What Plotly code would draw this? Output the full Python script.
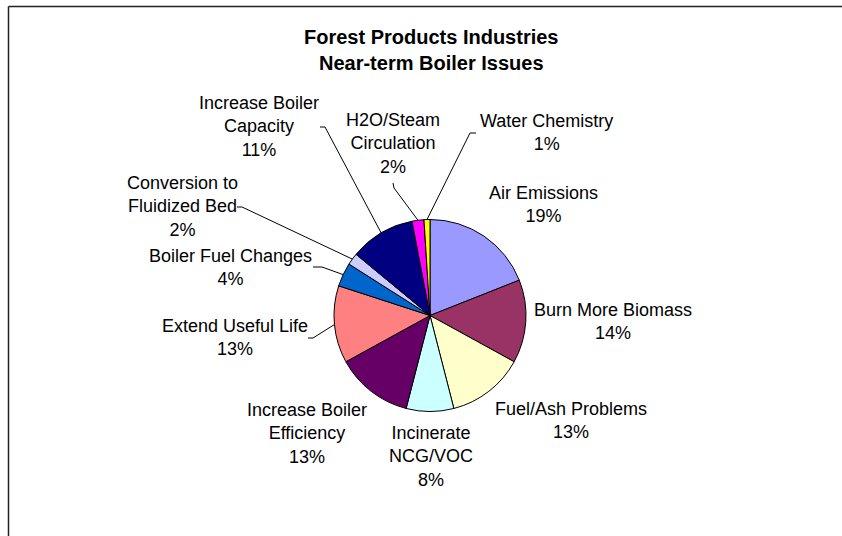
import math
import plotly.graph_objects as go

# Survey responses: share of near-term boiler issues (percent)
categories = [
    "Air Emissions",
    "Burn More Biomass",
    "Fuel/Ash Problems",
    "Incinerate NCG/VOC",
    "Increase Boiler Efficiency",
    "Extend Useful Life",
    "Boiler Fuel Changes",
    "Conversion to Fluidized Bed",
    "Increase Boiler Capacity",
    "H2O/Steam Circulation",
    "Water Chemistry",
]
values = [19, 14, 13, 8, 13, 13, 4, 2, 11, 2, 1]

# How each category name is wrapped in its label
label_lines = [
    ["Air Emissions"],
    ["Burn More Biomass"],
    ["Fuel/Ash Problems"],
    ["Incinerate", "NCG/VOC"],
    ["Increase Boiler", "Efficiency"],
    ["Extend Useful Life"],
    ["Boiler Fuel Changes"],
    ["Conversion to", "Fluidized Bed"],
    ["Increase Boiler", "Capacity"],
    ["H2O/Steam", "Circulation"],
    ["Water Chemistry"],
]

colors = ["#9999FF", "#993366", "#FFFFCC", "#CCFFFF", "#660066", "#FF8080",
          "#0066CC", "#CCCCFF", "#000080", "#FF00FF", "#FFFF00"]

W, H = 842, 536
CX, CY, R = 430, 315.5, 96          # pie centre and radius in pixels
FONT = "Arial, Liberation Sans, sans-serif"

# Label block centres (pixels)
label_pos = [
    (543, 204), (613, 321), (571, 420), (431, 456), (307, 433), (235, 337),
    (230, 267), (182, 206), (259, 126), (393, 143), (546, 132),
]
# Leader lines: label-side start point and elbow point (pixels), or None
leaders = [
    None, None, None, None, None,
    ((308, 338), (313, 338)),
    ((313, 267), (322, 267)),
    ((237, 207), (242, 207)),
    ((320, 127), (325, 127)),
    ((393, 183), (394, 188)),
    ((476, 133), (470, 133)),
]

total = sum(values)

fig = go.Figure()
fig.add_trace(go.Pie(
    labels=categories,
    values=values,
    sort=False,
    direction="clockwise",
    rotation=0,
    marker=dict(colors=colors, line=dict(color="#000000", width=1)),
    textinfo="none",
    hoverinfo="label+percent",
    showlegend=False,
    domain=dict(x=[(CX - R) / W, (CX + R) / W],
                y=[1 - (CY + R) / H, 1 - (CY - R) / H]),
))

shapes = []
annotations = []
cum = 0.0
for name_lines, v, (lx, ly), ld in zip(label_lines, values, label_pos, leaders):
    pct = round(100 * v / total)
    text = "<br>".join(name_lines + [f"{pct}%"])
    annotations.append(dict(
        x=lx, y=ly, xref="x", yref="y", text=text, showarrow=False,
        xanchor="center", yanchor="middle", align="center",
        font=dict(family=FONT, size=18, color="#000000"),
    ))
    theta = math.radians(360 * (cum + v / 2) / total)
    ex, ey = CX + R * math.sin(theta), CY - R * math.cos(theta)
    if ld is not None:
        (sx, sy), (bx, by) = ld
        shapes.append(dict(
            type="path", xref="x", yref="y",
            path=f"M {sx} {sy} L {bx} {by} L {ex:.2f} {ey:.2f}",
            line=dict(color="#000000", width=1),
        ))
    cum += v

# Chart frame: only its top and left edges fall inside the page
frame = dict(color="#222222", width=1.5)
shapes.append(dict(type="line", xref="paper", yref="paper",
                   x0=8.5 / W, y0=1 - 6.5 / H, x1=1.0, y1=1 - 6.5 / H, line=frame))
shapes.append(dict(type="line", xref="paper", yref="paper",
                   x0=8.5 / W, y0=1 - 6.5 / H, x1=8.5 / W, y1=0.0, line=frame))

annotations.append(dict(
    x=431, y=50, xref="x", yref="y",
    text="<b>Forest Products Industries<br>Near-term Boiler Issues</b>",
    showarrow=False, xanchor="center", yanchor="middle", align="center",
    font=dict(family=FONT, size=20, color="#000000"),
))

fig.update_layout(
    width=W, height=H,
    margin=dict(l=0, r=0, t=0, b=0),
    paper_bgcolor="#FFFFFF", plot_bgcolor="rgba(0,0,0,0)",
    xaxis=dict(range=[0, W], visible=False, fixedrange=True),
    yaxis=dict(range=[H, 0], visible=False, fixedrange=True),
    shapes=shapes, annotations=annotations,
)

fig.write_html("out.html")
